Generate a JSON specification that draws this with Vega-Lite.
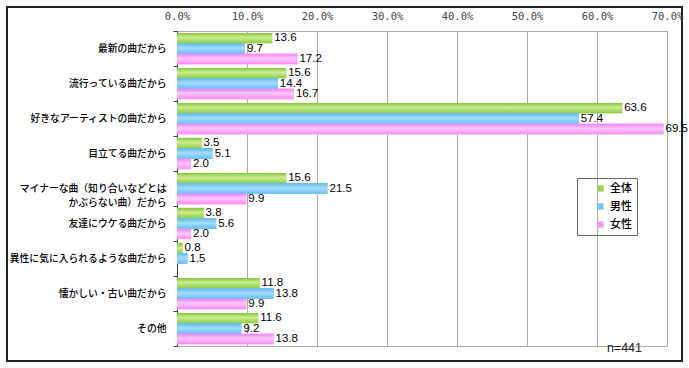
{
  "$schema": "https://vega.github.io/schema/vega-lite/v6.json",
  "width": 675,
  "height": 354,
  "autosize": {"type": "none"},
  "padding": {"left": 7, "top": 7, "right": 7, "bottom": 7},
  "background": "white",
  "title": {"text": "n=441", "orient": "bottom", "anchor": "end", "frame": "group", "offset": -19, "dx": -40, "font": "Liberation Sans", "fontSize": 12.5, "fontWeight": "normal", "color": "#222"},
  "config": {"view": {"stroke": "#222", "strokeWidth": 2}},
  "data": {"values": [
    {"reason": "最新の曲だから", "group": "全体", "value": 13.6},
    {"reason": "最新の曲だから", "group": "男性", "value": 9.7},
    {"reason": "最新の曲だから", "group": "女性", "value": 17.2},
    {"reason": "流行っている曲だから", "group": "全体", "value": 15.6},
    {"reason": "流行っている曲だから", "group": "男性", "value": 14.4},
    {"reason": "流行っている曲だから", "group": "女性", "value": 16.7},
    {"reason": "好きなアーティストの曲だから", "group": "全体", "value": 63.6},
    {"reason": "好きなアーティストの曲だから", "group": "男性", "value": 57.4},
    {"reason": "好きなアーティストの曲だから", "group": "女性", "value": 69.5},
    {"reason": "目立てる曲だから", "group": "全体", "value": 3.5},
    {"reason": "目立てる曲だから", "group": "男性", "value": 5.1},
    {"reason": "目立てる曲だから", "group": "女性", "value": 2.0},
    {"reason": "マイナーな曲（知り合いなどとは|かぶらない曲）だから", "group": "全体", "value": 15.6},
    {"reason": "マイナーな曲（知り合いなどとは|かぶらない曲）だから", "group": "男性", "value": 21.5},
    {"reason": "マイナーな曲（知り合いなどとは|かぶらない曲）だから", "group": "女性", "value": 9.9},
    {"reason": "友達にウケる曲だから", "group": "全体", "value": 3.8},
    {"reason": "友達にウケる曲だから", "group": "男性", "value": 5.6},
    {"reason": "友達にウケる曲だから", "group": "女性", "value": 2.0},
    {"reason": "異性に気に入られるような曲だから", "group": "全体", "value": 0.8},
    {"reason": "異性に気に入られるような曲だから", "group": "男性", "value": 1.5},
    {"reason": "懐かしい・古い曲だから", "group": "全体", "value": 11.8},
    {"reason": "懐かしい・古い曲だから", "group": "男性", "value": 13.8},
    {"reason": "懐かしい・古い曲だから", "group": "女性", "value": 9.9},
    {"reason": "その他", "group": "全体", "value": 11.6},
    {"reason": "その他", "group": "男性", "value": 9.2},
    {"reason": "その他", "group": "女性", "value": 13.8}
  ]},
  "encoding": {
    "y": {
      "field": "reason", "type": "nominal", "sort": null,
      "scale": {"range": [24, 339], "paddingInner": 0, "paddingOuter": 0},
      "axis": {"orient": "left", "offset": -170, "title": null, "tickBand": "extent", "domainColor": "#444", "tickColor": "#444", "tickSize": 4, "labelPadding": 7, "labelFont": "Noto Sans CJK JP", "labelFontSize": 9.8, "labelFontWeight": 500, "labelColor": "#000", "labelExpr": "split(datum.label, '|')", "labelLineHeight": 14, "grid": false}
    },
    "yOffset": {"field": "group", "type": "nominal", "sort": ["全体", "男性", "女性"], "scale": {"domain": ["全体", "男性", "女性"], "paddingInner": 0, "paddingOuter": 0.18}},
    "x": {"field": "value", "type": "quantitative", "scale": {"domain": [0, 70], "range": [170, 660], "nice": false, "zero": false}}
  },
  "layer": [
    {
      "mark": {"type": "bar"},
      "encoding": {
        "x": {"field": "value", "type": "quantitative", "axis": {"orient": "top", "offset": -24, "title": null, "values": [0, 10, 20, 30, 40, 50, 60, 70], "labelExpr": "format(datum.value, '.1f') + '%'", "labelFont": "DejaVu Sans Mono", "labelFontSize": 10.5, "labelColor": "#444", "labelPadding": 10, "ticks": false, "domainColor": "#aaa", "grid": true, "gridColor": "#aaa", "labelFlush": false, "labelOverlap": false}},
        "color": {
          "field": "group", "type": "nominal",
          "scale": {"domain": ["全体", "男性", "女性"], "range": ["#9bd455", "#76c8f8", "#fb99f6"]},
          "legend": {"title": null, "orient": "none", "legendX": 570, "legendY": 171, "strokeColor": "#666", "padding": 5, "symbolOffset": 13, "symbolType": "square", "symbolSize": 40, "symbolStrokeWidth": 0, "rowPadding": 6, "labelFont": "Noto Sans CJK JP", "labelFontSize": 11, "labelFontWeight": 500, "labelColor": "#000", "labelOffset": 4}
        }
      }
    },
    {
      "transform": [{"filter": "datum.group === '全体'"}],
      "mark": {"type": "bar", "fill": {"gradient": "linear", "x1": 0, "y1": 0, "x2": 0, "y2": 1, "stops": [{"offset": 0, "color": "#86c43c"}, {"offset": 0.45, "color": "#c9ee8e"}, {"offset": 1, "color": "#8fcb45"}]}},
      "encoding": {"x": {"field": "value", "type": "quantitative", "axis": null}}
    },
    {
      "transform": [{"filter": "datum.group === '男性'"}],
      "mark": {"type": "bar", "fill": {"gradient": "linear", "x1": 0, "y1": 0, "x2": 0, "y2": 1, "stops": [{"offset": 0, "color": "#5ab8f0"}, {"offset": 0.45, "color": "#a6dcff"}, {"offset": 1, "color": "#64c0f5"}]}},
      "encoding": {"x": {"field": "value", "type": "quantitative", "axis": null}}
    },
    {
      "transform": [{"filter": "datum.group === '女性'"}],
      "mark": {"type": "bar", "fill": {"gradient": "linear", "x1": 0, "y1": 0, "x2": 0, "y2": 1, "stops": [{"offset": 0, "color": "#f97ff2"}, {"offset": 0.45, "color": "#ffc6ff"}, {"offset": 1, "color": "#fb8cf5"}]}},
      "encoding": {"x": {"field": "value", "type": "quantitative", "axis": null}}
    },
    {
      "mark": {"type": "text", "align": "left", "baseline": "middle", "dx": 2, "font": "Liberation Sans", "fontSize": 11.5, "color": "#000"},
      "encoding": {
        "x": {"field": "value", "type": "quantitative", "axis": {"orient": "bottom", "offset": -15, "title": null, "labels": false, "ticks": false, "grid": false, "domainColor": "#aaa"}},
        "text": {"field": "value", "type": "quantitative", "format": ".1f"}
      }
    }
  ],
  "resolve": {"axis": {"x": "independent"}}
}
